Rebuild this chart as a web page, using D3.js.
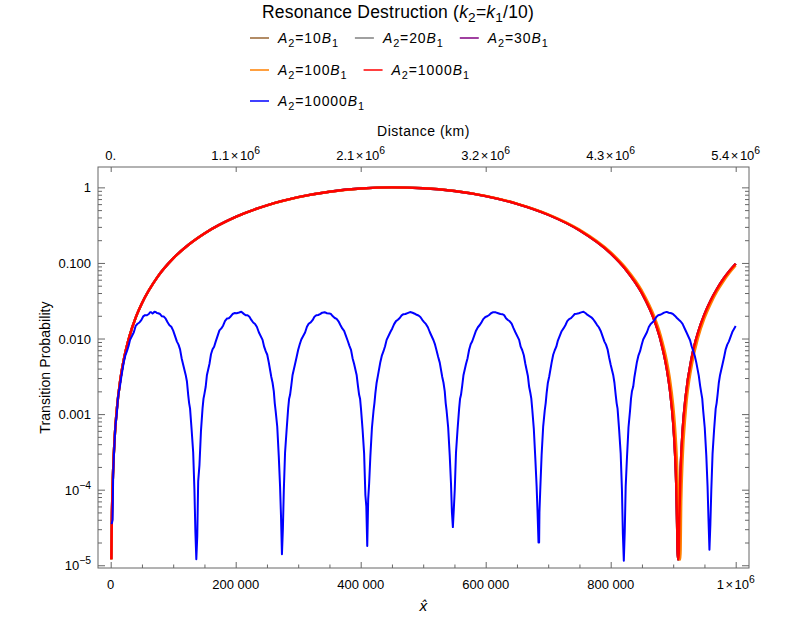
<!DOCTYPE html>
<html>
<head>
<meta charset="utf-8">
<script src="https://cdn.jsdelivr.net/npm/d3@7"></script>
<style>
  body { margin: 0; background: #fff; }
  text { font-family: "Liberation Sans", Arial, sans-serif; fill: #000; }
</style>
</head>
<body>
<svg id="chart" width="800" height="618"></svg>
<script>

// ---- data ----
var legendCoeffs = ["10", "20", "30", "100", "1000", "10000"];
var seriesColors = ["#996633", "#808080", "#800080", "#ff8000", "#ff0000", "#0000ff"];
var legendRows = [[0, 1, 2], [3, 4], [5]];

var bottomTicks = [0, 200000, 400000, 600000, 800000, 1000000];
var bottomLabels = ["0", "200 000", "400 000", "600 000", "800 000", "1\u00d710^6"];
var topLabels = ["0.", "1.1\u00d710^6", "2.1\u00d710^6", "3.2\u00d710^6", "4.3\u00d710^6", "5.4\u00d710^6"];
var leftTicks = [1, 0.1, 0.01, 0.001, 1e-4, 1e-5];
var leftLabels = ["1", "0.100", "0.010", "0.001", "10^\u22124", "10^\u22125"];

// A2 = 1000 B1
var redData = [
    [1000, 1.2e-5], [2000, 4.8e-5], [4000, 1.9e-4], [6000, 4.3e-4], [8000, 7.7e-4],
    [10000, 1.2e-3], [15000, 2.7e-3], [20000, 4.8e-3], [30000, 0.0107], [40000, 0.0189],
    [50000, 0.0293], [75000, 0.0655], [100000, 0.115], [125000, 0.1757], [150000, 0.2461],
    [200000, 0.4072], [250000, 0.5791], [300000, 0.7425], [350000, 0.8761], [400000, 0.9657],
    [450000, 0.9998], [500000, 0.9752], [550000, 0.894], [600000, 0.7658], [650000, 0.6051],
    [700000, 0.434], [750000, 0.2703], [800000, 0.1337], [825000, 0.0803], [850000, 0.0398],
    [870000, 0.0173], [880000, 0.0094], [890000, 0.00388], [895000, 0.00202], [900000, 7.66e-4],
    [903000, 3.0e-4], [905000, 1.08e-4], [906500, 2.7e-5], [907300, 1.2e-5],
    [908700, 1.2e-5], [910000, 4.8e-5], [912000, 1.9e-4], [915000, 5.9e-4], [920000, 1.72e-3],
    [930000, 5.8e-3], [940000, 0.0122], [950000, 0.0209], [960000, 0.0319], [970000, 0.0452],
    [980000, 0.0609], [990000, 0.0782], [1000000, 0.0975]
];

// A2 = 100 B1 (almost on top of the red one)
var orangeData = [
    [1000, 1.19e-5], [2000, 4.76e-5], [4000, 1.9e-4], [6000, 4.28e-4], [8000, 7.6e-4],
    [10000, 1.19e-3], [15000, 2.68e-3], [20000, 4.75e-3], [30000, 0.01068], [40000, 0.0189],
    [50000, 0.0293], [75000, 0.0655], [100000, 0.1144], [125000, 0.1747], [150000, 0.2448],
    [200000, 0.4053], [250000, 0.5775], [300000, 0.740], [350000, 0.8738], [400000, 0.9637],
    [450000, 0.9997], [500000, 0.9765], [550000, 0.8972], [600000, 0.7704], [650000, 0.6112],
    [700000, 0.4409], [750000, 0.2769], [800000, 0.1389], [825000, 0.0845], [850000, 0.04295],
    [870000, 0.01943], [880000, 0.01104], [890000, 0.00499], [895000, 0.00286], [900000, 0.001312],
    [903000, 6.7e-4], [905000, 3.6e-4], [907000, 1.46e-4], [908500, 4.76e-5], [909500, 1.19e-5],
    [911500, 1.19e-5], [913000, 7.4e-5], [915000, 2.41e-4], [920000, 1.07e-3], [930000, 4.52e-3],
    [940000, 0.01032], [950000, 0.01847], [960000, 0.02874], [970000, 0.04163], [980000, 0.05646],
    [990000, 0.07337], [1000000, 0.0923]
];

// the 10, 20, 30 curves are hidden under the red one
var brownData = redData;
var grayData = redData;
var purpleData = redData;

// A2 = 10000 B1
var blueData = [
    [1500, 3.5e-5], [3000, 4.0e-5], [4000, 1.6e-4], [5000, 2.7e-4], [7500, 6.9e-4],
    [10000, 1.05e-3], [13000, 1.95e-3], [17000, 3.1e-3], [21000, 4.9e-3], [26000, 6.8e-3],
    [31000, 9.6e-3], [37000, 0.0121], [43000, 0.0157], [49000, 0.0175], [55000, 0.0204],
    [61000, 0.0211], [65000, 0.0222], [68500, 0.0219], [72000, 0.0225],
    [76000, 0.0216], [82000, 0.0197], [88000, 0.0183], [94000, 0.0150], [100000, 0.0127],
    [106000, 0.0091], [111000, 0.0072], [116000, 0.0045], [120000, 0.0033], [124000, 0.0018],
    [127000, 0.00118], [129500, 0.00062], [132000, 0.00031], [134000, 0.000098], [135500, 0.000028],
    [137000, 0.000012],
    [138500, 0.000024], [140000, 0.00013], [142000, 0.00021], [144500, 0.00061], [147000, 0.0012],
    [150000, 0.00185], [154000, 0.0033], [158000, 0.0046], [163000, 0.0072], [168000, 0.0091],
    [174000, 0.0128], [180000, 0.0149], [186000, 0.0184], [192000, 0.0196], [198000, 0.0217],
    [205500, 0.0221],
    [213000, 0.0212], [219000, 0.0203], [225000, 0.0176], [231000, 0.0156], [237000, 0.0121],
    [243000, 0.0096], [248000, 0.0068], [253000, 0.0048], [257000, 0.0031], [261000, 0.0020],
    [264000, 0.00109], [266500, 0.00068], [269000, 0.00027], [271000, 0.00011], [272500, 0.000045],
    [274000, 0.000014],
    [275500, 0.00003], [277000, 0.000098], [279000, 0.00031], [281500, 0.00062], [284000, 0.0012],
    [287000, 0.0018], [291000, 0.0033], [295000, 0.0046], [300000, 0.0071], [305000, 0.0097],
    [311000, 0.0120], [317000, 0.0158], [323000, 0.0175], [329000, 0.0203], [335000, 0.0210],
    [342250, 0.0223],
    [349500, 0.0215], [355500, 0.0197], [361500, 0.0182], [367500, 0.0151], [373500, 0.0126],
    [379500, 0.0092], [384500, 0.0071], [389500, 0.0046], [393500, 0.0033], [397500, 0.0018],
    [400500, 0.00117], [403000, 0.00063], [405500, 0.00030], [407500, 0.000085], [409000, 0.00006],
    [410500, 0.000018],
    [412000, 0.000075], [413500, 0.00012], [415500, 0.00028], [418000, 0.00066], [420500, 0.0011],
    [423500, 0.0019], [427500, 0.0032], [431500, 0.0049], [436500, 0.0068], [441500, 0.0096],
    [447500, 0.0122], [453500, 0.0155], [459500, 0.0177], [465500, 0.0202], [471500, 0.0211],
    [479000, 0.0224],
    [486500, 0.0213], [492500, 0.0202], [498500, 0.0177], [504500, 0.0155], [510500, 0.0122],
    [516500, 0.0095], [521500, 0.0069], [526500, 0.0048], [530500, 0.0031], [534500, 0.0020],
    [537500, 0.0011], [540000, 0.00066], [542500, 0.00028], [544500, 0.00012], [546000, 0.00005],
    [547500, 0.000032],
    [549000, 0.000055], [550500, 0.0001], [552500, 0.00031], [555000, 0.00063], [557500, 0.00118],
    [560500, 0.0018], [564500, 0.0033], [568500, 0.0046], [573500, 0.0071], [578500, 0.0092],
    [584500, 0.0127], [590500, 0.0151], [596500, 0.0182], [602500, 0.0197], [608500, 0.0216],
    [616000, 0.0222],
    [623500, 0.0211], [629500, 0.0204], [635500, 0.0176], [641500, 0.0157], [647500, 0.0121],
    [653500, 0.0096], [658500, 0.0070], [663500, 0.0046], [667500, 0.0032], [671500, 0.0019],
    [674500, 0.00116], [677000, 0.00064], [679500, 0.00025], [681500, 0.00011], [683000, 0.00005],
    [684500, 0.00002],
    [685500, 0.00002], [686000, 0.00005], [687500, 0.00011], [689500, 0.00029], [692000, 0.00069],
    [694500, 0.00112], [697500, 0.0019], [701500, 0.0031], [705500, 0.0048], [710500, 0.0070],
    [715500, 0.0094], [721500, 0.0125], [727500, 0.0150], [733500, 0.0181], [739500, 0.0198],
    [745500, 0.0213], [752750, 0.0222],
    [760000, 0.0216], [766000, 0.0198], [772000, 0.0180], [778000, 0.0152], [784000, 0.0126],
    [790000, 0.0091], [795000, 0.0072], [800000, 0.0045], [804000, 0.0033], [808000, 0.0018],
    [811000, 0.00118], [813500, 0.00062], [816000, 0.00030], [818000, 0.0001], [819500, 0.000026],
    [821000, 0.0000115],
    [822500, 0.000028], [824000, 0.00011], [826000, 0.00026], [828500, 0.00067], [831000, 0.00112],
    [834000, 0.0020], [838000, 0.0031], [842000, 0.0049], [847000, 0.0068], [852000, 0.0097],
    [858000, 0.0121], [864000, 0.0156], [870000, 0.0176], [876000, 0.0203], [882000, 0.0212],
    [889500, 0.0225],
    [897000, 0.0216], [903000, 0.0199], [909000, 0.0177], [915000, 0.0156], [921000, 0.0122],
    [927000, 0.0095], [932000, 0.0069], [937000, 0.0048], [941000, 0.0032], [945000, 0.0019],
    [948000, 0.00111], [950500, 0.00066], [953000, 0.00028], [955000, 0.00011], [956500, 0.00004],
    [958000, 0.000016],
    [959500, 0.000035], [961000, 0.0001], [963000, 0.0003], [965500, 0.00063], [968000, 0.00118],
    [971000, 0.0018], [975000, 0.0033], [979000, 0.0046], [984000, 0.0072], [989000, 0.0091],
    [995000, 0.0124], [1000000, 0.0146]
];

// the small wiggles on the blue humps
var blueWiggles = [
    [40000, 0.0147], [46000, 0.0163], [52000, 0.0196], [58000, 0.0203], [63000, 0.0223],
    [67000, 0.0214], [70000, 0.0226], [74000, 0.0218], [79000, 0.0211], [85000, 0.0195],
    [91000, 0.0164], [97000, 0.0143],
    [177000, 0.0136], [183000, 0.0171], [189000, 0.0186], [195000, 0.0211], [201500, 0.0216],
    [209000, 0.0226], [216000, 0.0203], [222000, 0.0194], [228000, 0.0163], [234000, 0.0142],
    [314000, 0.0143], [320000, 0.0163], [326000, 0.0194], [332000, 0.0205], [338500, 0.0220],
    [346000, 0.0216], [352500, 0.0211], [358500, 0.0187], [364500, 0.0169], [370500, 0.0136],
    [450500, 0.0136], [456500, 0.0170], [462500, 0.0187], [468500, 0.0210], [475000, 0.0217],
    [483000, 0.0219], [489500, 0.0206], [495500, 0.0193], [501500, 0.0165], [507500, 0.0141],
    [587500, 0.0141], [593500, 0.0165], [599500, 0.0193], [605500, 0.0205], [612000, 0.0223],
    [620000, 0.0216], [626500, 0.0210], [632500, 0.0186], [638500, 0.0169], [644500, 0.0137],
    [724500, 0.0136], [730500, 0.0170], [736500, 0.0186], [742500, 0.0211], [749000, 0.0216],
    [756500, 0.0226], [763000, 0.0205], [769000, 0.0191], [775000, 0.0166], [781000, 0.0141],
    [861000, 0.0142], [867000, 0.0164], [873000, 0.0193], [879000, 0.0206], [885500, 0.0220],
    [893000, 0.0219], [900000, 0.0210], [906000, 0.0187], [912000, 0.0168], [918000, 0.0138]
];

// the little steps on the flanks of the blue dips
var blueSteps = [
    [11500, 0.0016], [15000, 0.0024], [23500, 0.0060], [28500, 0.0079],
    [108500, 0.0083], [113500, 0.0055], [122000, 0.0027], [125500, 0.0014],
    [148500, 0.0016], [152000, 0.0023], [160500, 0.0062], [165500, 0.0078],
    [245500, 0.0078], [250500, 0.0061], [259000, 0.0026], [262500, 0.0014],
    [285500, 0.0016], [289000, 0.0024], [297500, 0.0057], [302500, 0.0084],
    [382000, 0.0080], [387000, 0.0055], [395500, 0.0024], [399000, 0.0016],
    [422000, 0.0014], [425500, 0.0026], [434000, 0.0060], [439000, 0.0079],
    [519000, 0.0083], [524000, 0.0057], [532500, 0.0026], [536000, 0.0014],
    [559000, 0.0016], [562500, 0.0024], [571000, 0.0055], [576000, 0.0084],
    [656000, 0.0078], [661000, 0.0060], [669500, 0.0023], [673000, 0.0016],
    [696000, 0.0014], [699500, 0.0026], [708000, 0.0061], [713000, 0.0078],
    [792500, 0.0083], [797500, 0.0056], [806000, 0.0026], [809500, 0.0014],
    [832500, 0.0016], [836000, 0.0023], [844500, 0.0060], [849500, 0.0082],
    [929500, 0.0079], [934500, 0.0059], [943000, 0.0024], [946500, 0.0016],
    [969500, 0.0014], [973000, 0.0026], [981500, 0.0057], [986500, 0.0083]
];

var blueAll = blueData.concat(blueWiggles, blueSteps).sort(function(a, b) { return a[0] - b[0]; });
var allSeries = [brownData, grayData, purpleData, orangeData, redData, blueAll];

// ---- drawing ----
var svg = d3.select("#chart"),
    margin = {top: 167, right: 51, bottom: 50, left: 98},
    width = +svg.attr("width") - margin.left - margin.right,
    height = +svg.attr("height") - margin.top - margin.bottom,
    g = svg.append("g").attr("transform", "translate(" + margin.left + "," + margin.top + ")");

var x = d3.scaleLinear()
    .domain([-20300, 1021300])
    .range([0, width]);

var y = d3.scaleLog()
    .domain([9.2e-6, 1.86])
    .range([height, 0]);

// part lists -> tspans (italic, sub, sup, extra gap)
function rich(text, parts) {
    var shift = 0;
    parts.forEach(function(p) {
        var want = p.sub ? 4 : (p.sup ? -6 : 0);
        var ts = text.append("tspan").text(p.t).attr("dy", want - shift);
        shift = want;
        if (p.dx) ts.attr("dx", p.dx);
        if (p.sub || p.sup) ts.attr("font-size", p.size || "0.78em");
        if (p.it) ts.style("font-style", "italic");
    });
}

// "1.1×10^6" / "200 000" -> parts
function tickParts(s) {
    var parts = [];
    var bits = s.split("^");
    var base = bits[0];
    if (base.indexOf("\u00d7") >= 0) {
        var m = base.split("\u00d7");
        parts.push({t: m[0]});
        parts.push({t: "\u00d7", dx: 1.5});
        parts.push({t: m[1], dx: 1.5});
    } else if (base.indexOf(" ") >= 0) {
        var w = base.split(" ");
        parts.push({t: w[0]});
        parts.push({t: w[1], dx: 3.5});
    } else {
        parts.push({t: base});
    }
    if (bits.length > 1) parts.push({t: bits[1], sup: true, size: "0.8em"});
    return parts;
}

var minorY = [];
d3.range(-5, 1).forEach(function(e) {
    d3.range(2, 10).forEach(function(k) {
        var v = k * Math.pow(10, e);
        if (v < y.domain()[1]) minorY.push(v);
    });
});
var minorX = d3.range(0, 1000001, 50000).filter(function(v) { return bottomTicks.indexOf(v) < 0; });

function tickStyle(sel) {
    sel.select(".domain").remove();
    sel.selectAll("line").attr("stroke", "#666");
}

// bottom
g.append("g").attr("transform", "translate(0," + height + ")")
    .call(d3.axisBottom(x).tickValues(bottomTicks).tickSize(-6).tickFormat(""))
    .call(tickStyle);
g.append("g").attr("transform", "translate(0," + height + ")")
    .call(d3.axisBottom(x).tickValues(minorX).tickSize(-3.5).tickFormat(""))
    .call(tickStyle);
// top
g.append("g")
    .call(d3.axisTop(x).tickValues(bottomTicks).tickSize(-5).tickFormat(""))
    .call(tickStyle);
// left and right
[[d3.axisLeft, 0], [d3.axisRight, width]].forEach(function(a) {
    g.append("g").attr("transform", "translate(" + a[1] + ",0)")
        .call(a[0](y).tickValues(leftTicks).tickSize(-7).tickFormat(""))
        .call(tickStyle);
    g.append("g").attr("transform", "translate(" + a[1] + ",0)")
        .call(a[0](y).tickValues(minorY).tickSize(-4).tickFormat(""))
        .call(tickStyle);
});

// tick labels
bottomTicks.forEach(function(v, i) {
    var t = g.append("text")
        .attr("x", x(v)).attr("y", height + 21)
        .attr("text-anchor", "middle").attr("font-size", 13);
    rich(t, tickParts(bottomLabels[i]));
    t = g.append("text")
        .attr("x", x(v)).attr("y", -7)
        .attr("text-anchor", "middle").attr("font-size", 13);
    rich(t, tickParts(topLabels[i]));
});
leftTicks.forEach(function(v, i) {
    var t = g.append("text")
        .attr("x", -7).attr("y", y(v) + 5)
        .attr("text-anchor", "end").attr("font-size", 13);
    rich(t, tickParts(leftLabels[i]));
});

// frame
g.append("rect")
    .attr("width", width).attr("height", height)
    .attr("fill", "none").attr("stroke", "#666").attr("stroke-width", 1);

// curves
g.append("clipPath").attr("id", "plotclip")
    .append("rect").attr("width", width).attr("height", height);

var smooth = d3.line()
    .x(function(d) { return x(d[0]); })
    .y(function(d) { return y(d[1]); })
    .curve(d3.curveMonotoneX);

var jagged = d3.line()
    .x(function(d) { return x(d[0]); })
    .y(function(d) { return y(d[1]); });

var plot = g.append("g").attr("clip-path", "url(#plotclip)");
allSeries.forEach(function(data, i) {
    plot.append("path")
        .attr("d", i === 5 ? jagged(data) : smooth(data))
        .attr("fill", "none")
        .attr("stroke", seriesColors[i])
        .attr("stroke-width", i === 5 ? 2 : 2.4)
        .attr("stroke-linejoin", "round");
});

// axis titles
svg.append("text")
    .attr("x", margin.left + width / 2).attr("y", 136)
    .attr("text-anchor", "middle").attr("font-size", 14)
    .attr("letter-spacing", 0.5)
    .text("Distance (km)");

svg.append("text")
    .attr("transform", "translate(50," + (margin.top + height / 2) + ") rotate(-90)")
    .attr("text-anchor", "middle").attr("font-size", 14)
    .attr("letter-spacing", 0.1)
    .text("Transition Probability");

svg.append("text")
    .attr("x", margin.left + width / 2).attr("y", 611)
    .attr("text-anchor", "middle").attr("font-size", 14)
    .style("font-family", "'DejaVu Sans', sans-serif")
    .style("font-style", "italic")
    .text("x\u0302");

// title
var title = svg.append("text")
    .attr("x", 398).attr("y", 18)
    .attr("text-anchor", "middle").attr("font-size", 17.5)
    .attr("letter-spacing", 0.2);
rich(title, [{t: "Resonance Destruction ("}, {t: "k", it: true}, {t: "2", sub: true},
    {t: "="}, {t: "k", it: true}, {t: "1", sub: true}, {t: "/10)"}]);

// legend
var legendY = [38, 70, 101];
legendRows.forEach(function(row, r) {
    var cx = 250;
    row.forEach(function(idx) {
        var item = svg.append("g").attr("transform", "translate(" + cx + "," + legendY[r] + ")");
        item.append("line")
            .attr("x1", 0).attr("x2", 19)
            .attr("stroke", seriesColors[idx]).attr("stroke-width", 1.5);
        var t = item.append("text")
            .attr("x", 28).attr("y", 4.5).attr("font-size", 14)
            .attr("letter-spacing", 0.9);
        rich(t, [{t: "A", it: true}, {t: "2", sub: true}, {t: "=" + legendCoeffs[idx]},
            {t: "B", it: true}, {t: "1", sub: true}]);
        cx += 28 + t.node().getComputedTextLength() + 16;
    });
});

</script>
</body>
</html>
